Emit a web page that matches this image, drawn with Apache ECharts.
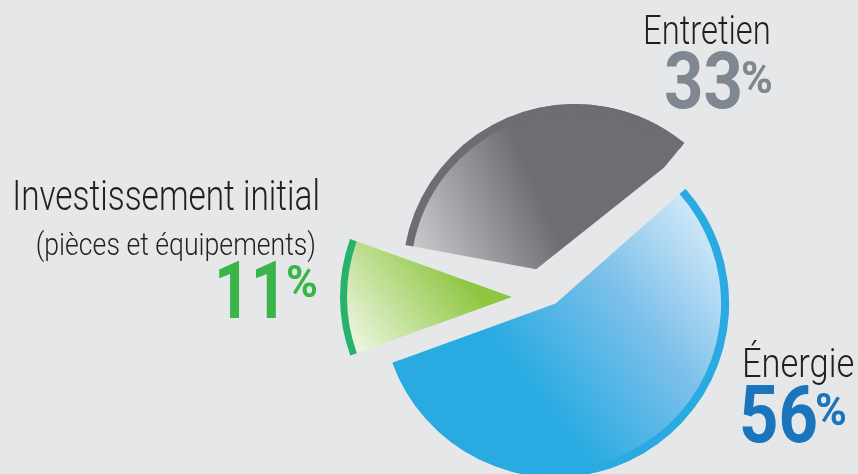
<!DOCTYPE html>
<html>
<head>
<meta charset="utf-8">
<script src="https://cdn.jsdelivr.net/npm/echarts@6/dist/echarts.min.js"></script>
<style>
html,body{margin:0;padding:0;background:#e6e7e8;}
#chart{width:858px;height:474px;}
</style>
</head>
<body>
<div id="chart"></div>
<script>
// ---- data ----
const categories = ['Entretien', 'Énergie', 'Investissement initial'];
const values = [33, 56, 11];
const subLabels = ['', '', '(pièces et équipements)'];

const BG = '#e6e7e8';
const fillColors = [
  {type:'linear', x:0.0, y:0.95, x2:0.5, y2:0.6, colorStops:[{offset:0,color:'#d3d4d6'},{offset:1,color:'#6d6e71'}]},
  {type:'linear', x:0.95, y:0.05, x2:0.35, y2:0.6, colorStops:[{offset:0,color:'#dceefa'},{offset:0.5,color:'#7cc0ea'},{offset:1,color:'#29abe2'}]},
  {type:'linear', x:0.7, y:0.25, x2:0.05, y2:1.0, colorStops:[{offset:0,color:'#8dc63f'},{offset:1,color:'#f4f9ec'}]}
];
const rimColors = ['#6d6e71', '#29abe2', '#27b36c'];
const numColors = ['#7f8790', '#1b75bc', '#39b54a'];

function sliceData(visible, color) {
  return values.map((v, i) => ({
    name: categories[i],
    value: v,
    itemStyle: { color: i === visible ? color : 'rgba(0,0,0,0)', borderWidth: 0 }
  }));
}
function pie(visible, color, center, radius, startAngle, z) {
  return {
    type: 'pie', data: sliceData(visible, color), center: center, radius: radius,
    startAngle: startAngle, clockwise: true, z: z, silent: true,
    label: {show:false}, labelLine: {show:false}, emphasis: {disabled:true},
    avoidLabelOverlap: false, animation: false
  };
}

const series = [
  pie(0, fillColors[0], [575, 276.5], [0, 172.5], 169.5, 1),
  pie(0, rimColors[0], [575, 276.5], [164.5, 172.5], 169.5, 2),
  pie(1, BG, [534, 271], [0, 215], 157.3, 3),          // gap between Entretien and Énergie
  pie(2, fillColors[2], [512, 297], [0, 172], 160.3, 4),
  pie(2, rimColors[2], [512, 297], [165, 172], 160.3, 5),
  pie(1, fillColors[1], [555.6, 303.6], [0, 173.5], 160.3, 6),
  pie(1, rimColors[1], [555.6, 303.6], [165.5, 173.5], 160.3, 7)
];

function txt(text, x, y, size, weight, color, align, sx) {
  return { type:'text', x:x, y:y, z:100, scaleX:sx, silent:true,
    style:{ text:text, fontFamily:'Roboto', fontSize:size, fontWeight:weight, fill:color,
            textAlign:align, textVerticalAlign:'middle' } };
}
const graphic = [
  txt(categories[0], 643, 33.5, 41, 300, '#231f20', 'left', 0.8),
  txt(String(values[0]), 664, 88, 80, 'bold', numColors[0], 'left', 0.86),
  txt('%', 741, 81.5, 44, 'bold', numColors[0], 'left', 0.98),

  txt(categories[2], 320, 199, 42, 300, '#231f20', 'right', 0.795),
  txt(subLabels[2], 316, 247, 31, 300, '#231f20', 'right', 0.86),
  txt(String(values[2]), 214, 298, 80, 'bold', numColors[2], 'left', 0.8),
  txt('%', 286, 286, 44, 'bold', numColors[2], 'left', 0.98),

  txt(categories[1], 742, 367, 41, 300, '#231f20', 'left', 0.84),
  txt(String(values[1]), 739, 422, 80, 'bold', numColors[1], 'left', 0.86),
  txt('%', 815, 414, 44, 'bold', numColors[1], 'left', 0.98)
];

const chart = echarts.init(document.getElementById('chart'), null, {renderer:'canvas'});
chart.setOption({ backgroundColor: BG, animation:false, series: series, graphic: graphic });
</script>
</body>
</html>
